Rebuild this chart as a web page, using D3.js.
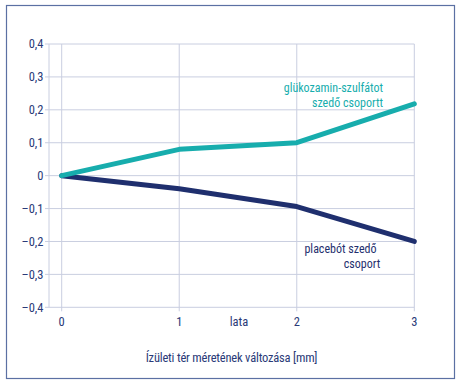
<!DOCTYPE html>
<html>
<head>
<meta charset="utf-8">
<script src="https://cdn.jsdelivr.net/npm/d3@7"></script>
<style>
  body { margin: 0; background: #fff; }
  text { font-family: "Roboto Condensed", "DejaVu Sans Condensed", sans-serif; }
</style>
</head>
<body>
<div id="chart"></div>
<script>
// data
const years = [0, 1, 2, 3];
const glucosamine = [0, 0.08, 0.1, 0.218];
const placebo = [0, -0.04, -0.094, -0.2];
const yTicks = [-0.4, -0.3, -0.2, -0.1, 0, 0.1, 0.2, 0.3, 0.4];

const width = 463, height = 386;
const navy = "#1f2f6e", teal = "#17adad", grid = "#c9cee0", textCol = "#2a3a78";

const svg = d3.select("#chart").append("svg")
    .attr("width", width)
    .attr("height", height);

// outer frame
svg.append("rect")
    .attr("x", 6.5).attr("y", 5.5)
    .attr("width", 448).attr("height", 373)
    .attr("fill", "none")
    .attr("stroke", "#5b70a3")
    .attr("stroke-width", 1.2);

const x = d3.scaleLinear().domain([0, 3]).range([61.7, 414.3]);
const y = d3.scaleLinear().domain([-0.4, 0.4]).range([307.3, 44]);
const left = 49;

const fmt = v => v === 0 ? "0" : (v < 0 ? "\u2013" : "") + Math.abs(v).toFixed(1).replace(".", ",");

// horizontal grid
svg.append("g").selectAll("line")
    .data(yTicks.slice(1))
    .enter().append("line")
    .attr("x1", left).attr("x2", x(3))
    .attr("y1", d => y(d)).attr("y2", d => y(d))
    .attr("stroke", grid).attr("stroke-width", 1);

// vertical grid
svg.append("g").selectAll("line")
    .data(years)
    .enter().append("line")
    .attr("x1", d => x(d)).attr("x2", d => x(d))
    .attr("y1", y(0.4)).attr("y2", y(-0.4) + 4)
    .attr("stroke", grid).attr("stroke-width", 1);

// axes lines
svg.append("line")
    .attr("x1", left).attr("x2", left)
    .attr("y1", y(0.4)).attr("y2", y(-0.4))
    .attr("stroke", grid).attr("stroke-width", 1);
svg.append("line")
    .attr("x1", left).attr("x2", x(3))
    .attr("y1", y(-0.4)).attr("y2", y(-0.4))
    .attr("stroke", grid).attr("stroke-width", 1);

// y ticks
svg.append("g").selectAll("line")
    .data(yTicks)
    .enter().append("line")
    .attr("x1", left - 4).attr("x2", left)
    .attr("y1", d => y(d)).attr("y2", d => y(d))
    .attr("stroke", grid);

svg.append("g").selectAll("text")
    .data(yTicks)
    .enter().append("text")
    .attr("x", 43.5)
    .attr("y", d => y(d))
    .attr("dy", "0.35em")
    .attr("text-anchor", "end")
    .attr("font-size", 12.5)
    .attr("fill", textCol)
    .text(fmt);

// x tick labels
svg.append("g").selectAll("text")
    .data(years)
    .enter().append("text")
    .attr("x", d => x(d))
    .attr("y", 322)
    .attr("dy", "0.35em")
    .attr("text-anchor", "middle")
    .attr("font-size", 12.5)
    .attr("fill", textCol)
    .text(d => d);

svg.append("text")
    .attr("x", 239).attr("y", 322).attr("dy", "0.35em")
    .attr("text-anchor", "middle")
    .attr("font-size", 12.5)
    .attr("fill", textCol)
    .text("lata");

svg.append("text")
    .attr("x", 231.5).attr("y", 357.5).attr("dy", "0.35em")
    .attr("text-anchor", "middle")
    .attr("font-size", 12.5)
    .attr("letter-spacing", -0.2)
    .attr("fill", textCol)
    .text("Ízületi tér méretének változása [mm]");

// lines
const line = d3.line()
    .x((d, i) => x(years[i]))
    .y(d => y(d));

svg.append("path")
    .datum(placebo)
    .attr("d", line)
    .attr("fill", "none")
    .attr("stroke", navy)
    .attr("stroke-width", 5)
    .attr("stroke-linecap", "round")
    .attr("stroke-linejoin", "round");

svg.append("path")
    .datum(glucosamine)
    .attr("d", line)
    .attr("fill", "none")
    .attr("stroke", teal)
    .attr("stroke-width", 5)
    .attr("stroke-linecap", "round")
    .attr("stroke-linejoin", "round");

// series labels
const glLabel = ["glükozamin-szulfátot", "szedő csoportt"];
svg.append("g").selectAll("text")
    .data(glLabel)
    .enter().append("text")
    .attr("x", 383)
    .attr("y", (d, i) => 88 + i * 15)
    .attr("dy", "0.35em")
    .attr("text-anchor", "end")
    .attr("font-size", 12)
    .attr("fill", teal)
    .text(d => d);

svg.append("text")
    .attr("x", 340.5).attr("y", 248.5).attr("dy", "0.35em")
    .attr("text-anchor", "middle")
    .attr("font-size", 12)
    .attr("fill", navy)
    .text("placebót szedő");
svg.append("text")
    .attr("x", 362).attr("y", 264).attr("dy", "0.35em")
    .attr("text-anchor", "middle")
    .attr("font-size", 12)
    .attr("fill", navy)
    .text("csoport");
</script>
</body>
</html>
